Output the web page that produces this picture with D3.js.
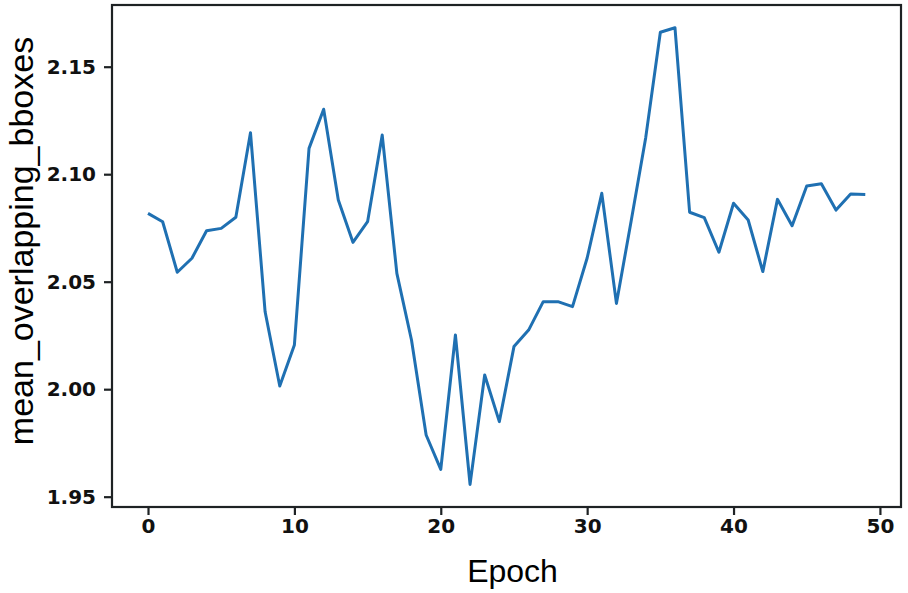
<!DOCTYPE html>
<html>
<head>
<title>mean_overlapping_bboxes</title>
<style>
  body { margin: 0; background: #fff; }
</style>
</head>
<body>

<div id="my_dataviz"></div>

<script src="https://d3js.org/d3.v7.min.js"></script>
<script>

    // values
    var epochs = d3.range(0, 50);
    var meanOverlap = [
      2.0818, 2.0779, 2.0544, 2.0609, 2.0737, 2.0748, 2.0800, 2.1193, 2.0360, 2.0015,
      2.0206, 2.1120, 2.1302, 2.0880, 2.0683, 2.0779, 2.1182, 2.0539, 2.0229, 1.9787,
      1.9627, 2.0252, 1.9557, 2.0066, 1.9849, 2.0198, 2.0275, 2.0407, 2.0407, 2.0384,
      2.0610, 2.0911, 2.0399, 2.0780, 2.1170, 2.1660, 2.1681, 2.0823, 2.0798, 2.0637,
      2.0865, 2.0787, 2.0547, 2.0883, 2.0760, 2.0945, 2.0956, 2.0833, 2.0908, 2.0906
    ];
    var xTicks = [0, 10, 20, 30, 40, 50];
    var yTicks = [1.95, 2.00, 2.05, 2.10, 2.15];

    var data = epochs.map(function(e, i) { return {epoch: e, value: meanOverlap[i]}; });

    // set the dimensions and margins of the graph
    var margin = {top: 5, right: 7, bottom: 86, left: 112},
        width = 908 - margin.left - margin.right,
        height = 593 - margin.top - margin.bottom;

    var svg = d3.select("#my_dataviz")
      .append("svg")
        .attr("width", 908)
        .attr("height", 593)
      .append("g")
        .attr("transform", "translate(" + margin.left + "," + margin.top + ")");

    var x = d3.scaleLinear().domain([-2.46, 51.44]).range([0, width]);
    var y = d3.scaleLinear().domain([1.9452, 2.1787]).range([height, 0]);

    // X axis
    var gx = svg.append("g")
      .attr("transform", "translate(0," + height + ")")
      .call(d3.axisBottom(x).tickValues(xTicks).tickFormat(d3.format("d")).tickSize(8).tickPadding(4));

    // Y axis
    var gy = svg.append("g")
      .call(d3.axisLeft(y).tickValues(yTicks).tickFormat(d3.format(".2f")).tickSize(8).tickPadding(8));

    [gx, gy].forEach(function(g) {
      g.select(".domain").remove();
      g.selectAll(".tick line").attr("stroke", "#1e2224").attr("stroke-width", 2.2);
      g.selectAll(".tick text")
        .attr("fill", "#111")
        .style("font-family", "DejaVu Sans")
        .style("font-weight", "bold")
        .style("font-size", "20px");
    });

    // frame
    svg.append("rect")
      .attr("x", 0).attr("y", 0)
      .attr("width", width).attr("height", height)
      .attr("fill", "none")
      .attr("stroke", "#1e2224")
      .attr("stroke-width", 2.2);

    // the line
    svg.append("path")
      .datum(data)
      .attr("fill", "none")
      .attr("stroke", "#1f70b2")
      .attr("stroke-width", 3)
      .attr("stroke-linejoin", "round")
      .attr("d", d3.line()
        .x(function(d) { return x(d.epoch); })
        .y(function(d) { return y(d.value); }));

    // axis labels
    svg.append("text")
      .attr("x", width / 2 + 6)
      .attr("y", height + 75)
      .attr("text-anchor", "middle")
      .style("font-family", "Liberation Sans")
      .style("font-size", "32px")
      .text("Epoch");

    svg.append("text")
      .attr("transform", "translate(" + (33 - margin.left) + "," + 236 + ") rotate(-90)")
      .attr("text-anchor", "middle")
      .style("font-family", "Liberation Sans")
      .style("font-size", "34px")
      .text("mean_overlapping_bboxes");

</script>

</body>
</html>
